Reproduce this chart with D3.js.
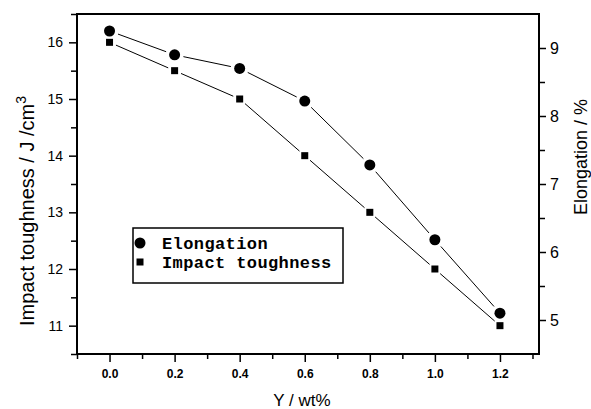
<!DOCTYPE html>
<html>
<head>
<meta charset="utf-8">
<script src="https://cdn.jsdelivr.net/npm/d3@7"></script>
<style>
  body { margin: 0; background: #fff; }
  svg { display: block; }
</style>
</head>
<body>
<svg id="main" width="591" height="409"></svg>
<script>
// data
var yContent = [0.0, 0.2, 0.4, 0.6, 0.8, 1.0, 1.2];
var impact = [16.0, 15.5, 15.0, 14.0, 13.0, 12.0, 11.0];
var elongation = [9.25, 8.9, 8.7, 8.22, 7.28, 6.18, 5.1];

var xTicks = [0.0, 0.2, 0.4, 0.6, 0.8, 1.0, 1.2];
var leftTicks = [11, 12, 13, 14, 15, 16];
var rightTicks = [5, 6, 7, 8, 9];

var svg = d3.select("#main");
var m = {left: 77, top: 14, right: 52, bottom: 55};
var W = 591, H = 409;

var x = d3.scaleLinear().domain([-0.1, 1.32]).range([m.left, W - m.right]);
var yL = d3.scaleLinear().domain([10.5, 16.5]).range([H - m.bottom, m.top]);
var yR = d3.scaleLinear().domain([4.5, 9.5]).range([H - m.bottom, m.top]);

// minor ticks
var xMinor = d3.range(-0.1, 1.35, 0.2);
var lMinor = d3.range(10.5, 16.6, 1);
var rMinor = d3.range(5.5, 9, 1);

function styleAxis(g, size, weight) {
  g.select(".domain").remove();
  g.selectAll(".tick line").attr("stroke", "#000").attr("stroke-width", 1.5);
  g.selectAll(".tick text").attr("fill", "#000")
    .style("font-family", "Arial, 'Liberation Sans', sans-serif")
    .style("font-size", size + "px").style("font-weight", weight);
}

// bottom
svg.append("g").attr("transform", "translate(0," + (H - m.bottom) + ")")
  .call(d3.axisBottom(x).tickValues(xMinor).tickSize(5).tickFormat(""))
  .call(function(g) { styleAxis(g, 12, "bold"); });
svg.append("g").attr("transform", "translate(0," + (H - m.bottom) + ")")
  .call(d3.axisBottom(x).tickValues(xTicks).tickSize(8).tickPadding(7).tickFormat(d3.format(".1f")))
  .call(function(g) { styleAxis(g, 12, "bold"); });

// left
svg.append("g").attr("transform", "translate(" + m.left + ",0)")
  .call(d3.axisLeft(yL).tickValues(lMinor).tickSize(6).tickFormat(""))
  .call(function(g) { styleAxis(g, 14, "normal"); });
svg.append("g").attr("transform", "translate(" + m.left + ",0)")
  .call(d3.axisLeft(yL).tickValues(leftTicks).tickSize(8).tickPadding(6).tickFormat(d3.format("d")))
  .call(function(g) { styleAxis(g, 14, "normal"); });

// right
svg.append("g").attr("transform", "translate(" + (W - m.right) + ",0)")
  .call(d3.axisRight(yR).tickValues(rMinor).tickSize(6).tickFormat(""))
  .call(function(g) { styleAxis(g, 16, "normal"); });
svg.append("g").attr("transform", "translate(" + (W - m.right) + ",0)")
  .call(d3.axisRight(yR).tickValues(rightTicks).tickSize(7).tickPadding(4).tickFormat(d3.format("d")))
  .call(function(g) { styleAxis(g, 16, "normal"); });

// frame
svg.append("rect")
  .attr("x", m.left).attr("y", m.top)
  .attr("width", W - m.left - m.right).attr("height", H - m.top - m.bottom)
  .attr("fill", "none").attr("stroke", "#000").attr("stroke-width", 2);

// lines with a gap at each marker
function gapLine(pts, gap) {
  for (var i = 0; i < pts.length - 1; i++) {
    var a = pts[i], b = pts[i + 1];
    var dx = b[0] - a[0], dy = b[1] - a[1];
    var len = Math.sqrt(dx * dx + dy * dy);
    var ux = dx / len, uy = dy / len;
    svg.append("line")
      .attr("x1", a[0] + ux * gap).attr("y1", a[1] + uy * gap)
      .attr("x2", b[0] - ux * gap).attr("y2", b[1] - uy * gap)
      .attr("stroke", "#000").attr("stroke-width", 1);
  }
}

var ePts = yContent.map(function(d, i) { return [x(d), yR(elongation[i])]; });
var iPts = yContent.map(function(d, i) { return [x(d), yL(impact[i])]; });
gapLine(ePts, 9);
gapLine(iPts, 7);

svg.selectAll("circle.e").data(ePts).enter().append("circle")
  .attr("class", "e")
  .attr("cx", function(d) { return d[0]; })
  .attr("cy", function(d) { return d[1]; })
  .attr("r", 5.5).attr("fill", "#000");

svg.selectAll("rect.i").data(iPts).enter().append("rect")
  .attr("class", "i")
  .attr("x", function(d) { return d[0] - 3.5; })
  .attr("y", function(d) { return d[1] - 3.5; })
  .attr("width", 7).attr("height", 7).attr("fill", "#000");

// axis titles
var sans = "Arial, 'Liberation Sans', sans-serif";
svg.append("text")
  .attr("x", 302).attr("y", 406)
  .attr("text-anchor", "middle")
  .style("font-family", sans).style("font-size", "17px")
  .text("Y / wt%");

var lt = svg.append("text")
  .attr("transform", "translate(34,211) rotate(-90)")
  .attr("text-anchor", "middle")
  .style("font-family", sans).style("font-size", "20px");
lt.append("tspan").text("Impact toughness / J /cm");
lt.append("tspan").attr("dy", -8).style("font-size", "14px").text("3");

svg.append("text")
  .attr("transform", "translate(587,157) rotate(-90)")
  .attr("text-anchor", "middle")
  .style("font-family", sans).style("font-size", "18px")
  .text("Elongation / %");

// legend
var lg = svg.append("g");
lg.append("rect")
  .attr("x", 133).attr("y", 228).attr("width", 210).attr("height", 55)
  .attr("fill", "#fff").attr("stroke", "#000").attr("stroke-width", 1.5);
lg.append("circle").attr("cx", 140).attr("cy", 243).attr("r", 5.5).attr("fill", "#000");
lg.append("rect").attr("x", 136.5).attr("y", 258.5).attr("width", 7).attr("height", 7).attr("fill", "#000");
var mono = "'Liberation Mono', 'Courier New', monospace";
lg.append("text").attr("x", 162).attr("y", 249)
  .style("font-family", mono).style("font-size", "17px").style("font-weight", "bold")
  .style("letter-spacing", "0.4px")
  .text("Elongation");
lg.append("text").attr("x", 162).attr("y", 268)
  .style("font-family", mono).style("font-size", "17px").style("font-weight", "bold")
  .style("letter-spacing", "0.4px")
  .text("Impact toughness");
</script>
</body>
</html>
